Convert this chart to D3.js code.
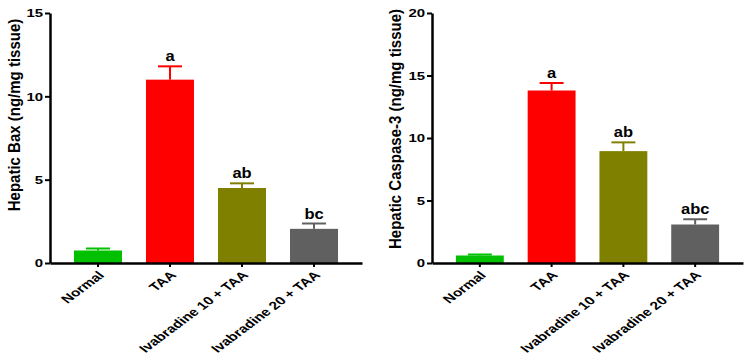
<!DOCTYPE html>
<html>
<head>
<meta charset="utf-8">
<script src="https://cdn.jsdelivr.net/npm/d3@7"></script>
<style>
	body { margin: 0; background: #fff; }
	svg text { font-family: "Liberation Sans", Arial, sans-serif; font-weight: bold; fill: #000; }
</style>
</head>
<body>
<div id="chart"></div>
<script>
// DATA
const groups = ["Normal", "TAA", "Ivabradine 10 + TAA", "Ivabradine 20 + TAA"];
const barColors = ["#00c000", "#ff0000", "#808000", "#606060"];

const baxMean = [0.75, 11.0, 4.5, 2.05];
const baxSem = [0.12, 0.8, 0.28, 0.32];
const baxLetters = ["", "a", "ab", "bc"];
const baxTicks = [0, 5, 10, 15];

const caspMean = [0.6, 13.8, 8.95, 3.08];
const caspSem = [0.08, 0.6, 0.7, 0.42];
const caspLetters = ["", "a", "ab", "abc"];
const caspTicks = [0, 5, 10, 15, 20];


// SVG
const width = 750;
const height = 364;
// the source figure is a bit stretched sideways, so text gets the same
const sx = 1.3;
const svg = d3.select("#chart")
	.append("svg")
	.attr("width", width)
	.attr("height", height);


/** DRAW ONE PANEL
	* x0, x1: horizontal extent of the x axis
	* yMax: top of the value axis
	*/
function drawPanel(opts) {
	const { x0, x1, yMax, ticks, mean, sem, letters, title, titleX, titleY } = opts;
	const y0 = 263, yTop = 13;

	const x = d3.scaleBand()
		.domain(groups)
		.range([x0, x1])
		.paddingInner(0.333)
		.paddingOuter(0.333);
	const y = d3.scaleLinear()
		.domain([0, yMax])
		.range([y0, yTop]);

	const rows = groups.map((g, i) => ({ g, m: mean[i], s: sem[i], l: letters[i], c: barColors[i] }));
	const g = svg.append("g");
	const cx = d => x(d.g) + x.bandwidth() / 2;

	// bars
	g.selectAll("rect.bar")
		.data(rows)
		.enter()
		.append("rect")
			.attr("class", "bar")
			.attr("x", d => x(d.g))
			.attr("y", d => y(d.m))
			.attr("width", x.bandwidth())
			.attr("height", d => y(0) - y(d.m))
			.attr("fill", d => d.c);

	// error bars (upper half only)
	const cap = x.bandwidth() / 2;
	const eb = g.selectAll("g.err")
		.data(rows)
		.enter()
		.append("g")
			.attr("class", "err")
			.attr("stroke", d => d.c)
			.attr("stroke-width", 2);
	eb.append("line")
		.attr("x1", cx)
		.attr("x2", cx)
		.attr("y1", d => y(d.m))
		.attr("y2", d => y(d.m + d.s));
	eb.append("line")
		.attr("x1", d => cx(d) - cap / 2)
		.attr("x2", d => cx(d) + cap / 2)
		.attr("y1", d => y(d.m + d.s))
		.attr("y2", d => y(d.m + d.s));

	// significance letters
	g.selectAll("text.sig")
		.data(rows)
		.enter()
		.append("text")
			.attr("class", "sig")
			.attr("transform", d => `translate(${cx(d)},${y(d.m + d.s) - 5}) scale(1.1,1)`)
			.attr("text-anchor", "middle")
			.attr("font-size", 15)
			.text(d => d.l);

	// y axis
	const yAxis = g.append("g")
		.attr("transform", `translate(${x0},0)`)
		.call(d3.axisLeft(y).tickValues(ticks).tickSize(5).tickSizeOuter(0));
	yAxis.select(".domain").attr("stroke-width", 2.5);
	yAxis.selectAll(".tick line").attr("stroke-width", 2);
	yAxis.selectAll(".tick text")
		.attr("font-size", 11.5)
		.style("font-weight", "bold")
		.attr("x", 0)
		.attr("transform", `translate(-7,0) scale(${sx},1)`);

	// x axis
	const xAxis = g.append("g")
		.attr("transform", `translate(0,${y0})`)
		.call(d3.axisBottom(x).tickSize(4).tickSizeOuter(0));
	xAxis.select(".domain").attr("stroke-width", 2.5);
	xAxis.selectAll(".tick line").attr("stroke-width", 2);
	xAxis.selectAll(".tick text")
		.attr("font-size", 11.5)
		.attr("text-anchor", "end")
		.attr("x", 0).attr("y", 0).attr("dy", 0)
		.attr("transform", `translate(7,13) scale(1.34,1) rotate(-45)`);
	g.selectAll(".domain, .tick line").attr("stroke", "#000");

	// y title
	g.append("text")
		.attr("transform", `translate(${titleX},${titleY}) scale(1.15,1) rotate(-90)`)
		.attr("text-anchor", "middle")
		.attr("font-size", 15)
		.text(title);
}

drawPanel({
	x0: 50, x1: 362, yMax: 15, ticks: baxTicks,
	mean: baxMean, sem: baxSem, letters: baxLetters,
	title: "Hepatic Bax (ng/mg tissue)", titleX: 20, titleY: 115
});
drawPanel({
	x0: 432, x1: 743, yMax: 20, ticks: caspTicks,
	mean: caspMean, sem: caspSem, letters: caspLetters,
	title: "Hepatic Caspase-3 (ng/mg tissue)", titleX: 401, titleY: 129
});
</script>
</body>
</html>
